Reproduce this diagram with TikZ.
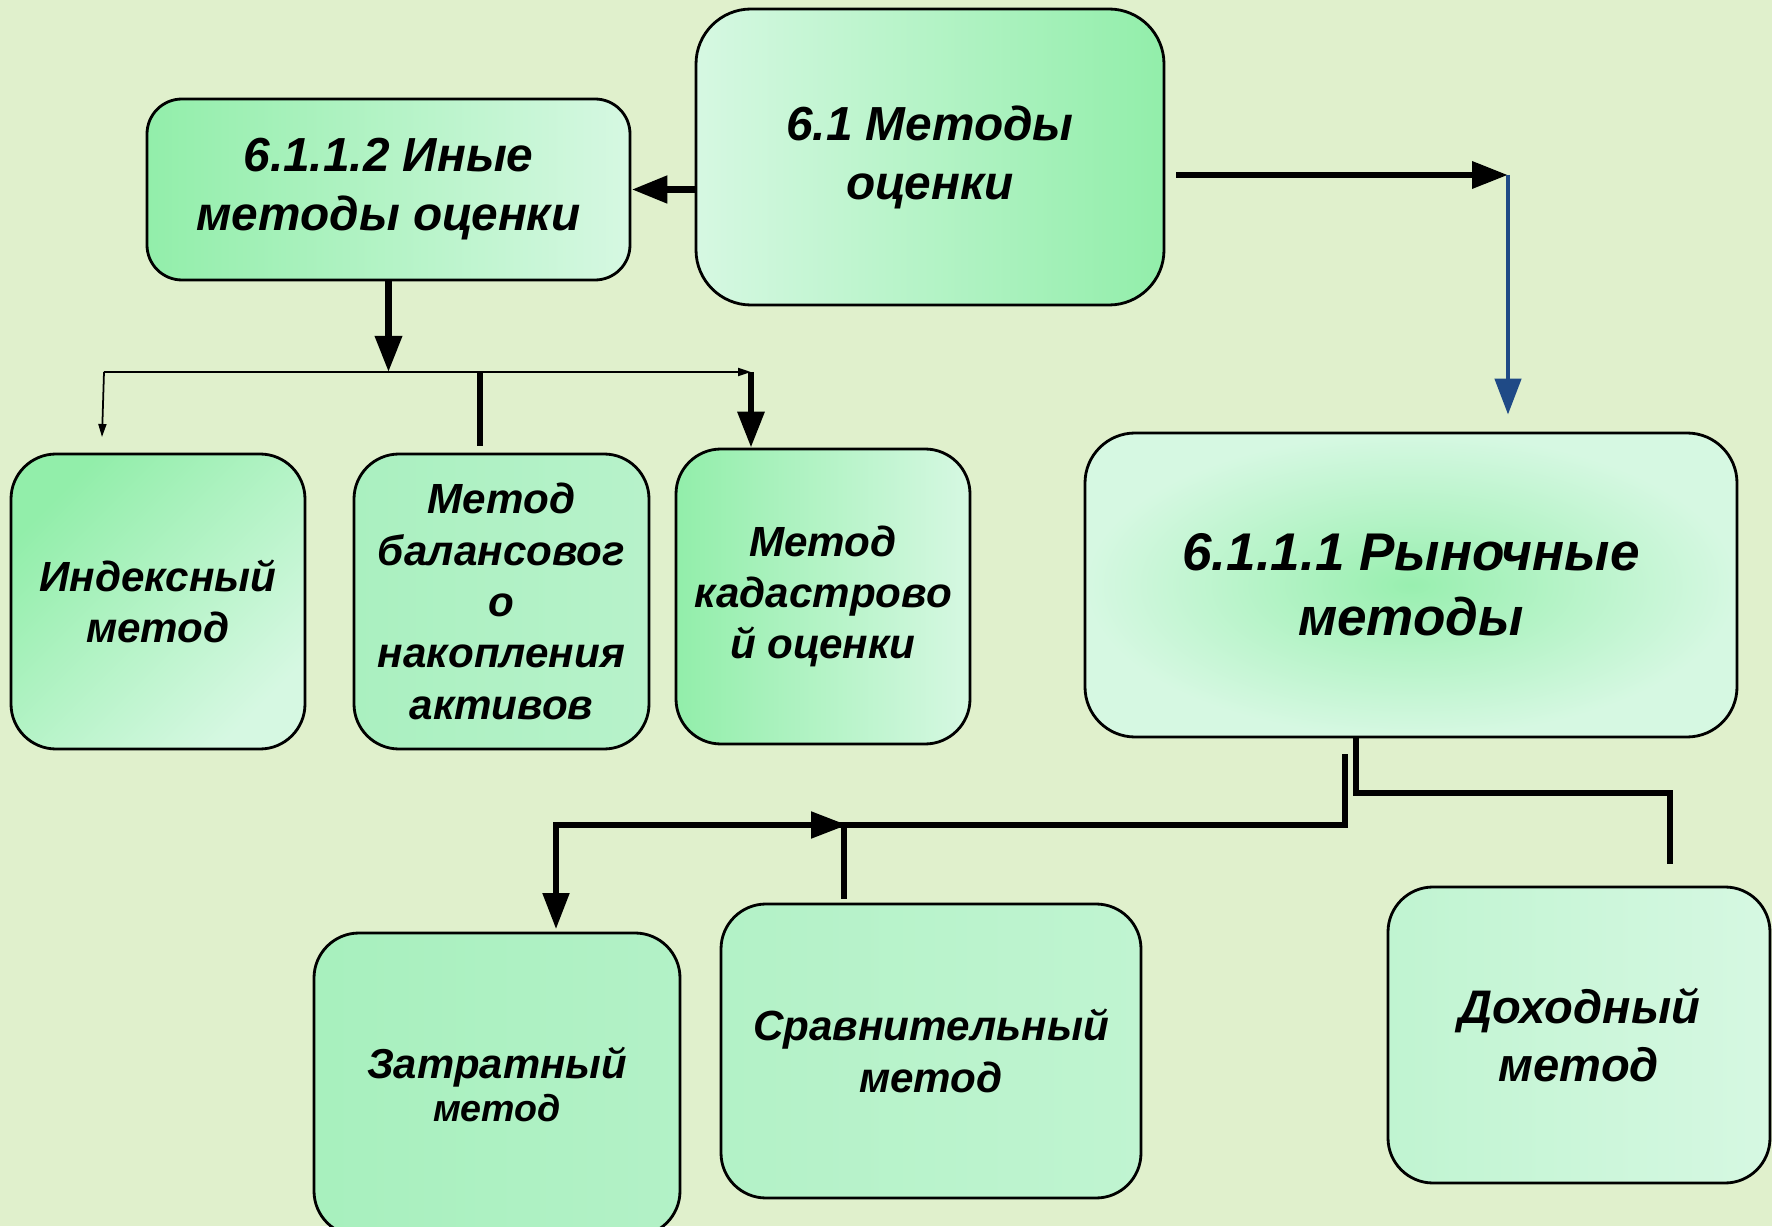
\documentclass[tikz,border=0pt]{standalone}
\usepackage{fontspec}
\setmainfont{Liberation Sans}
\usetikzlibrary{positioning,calc,arrows.meta}

\definecolor{bgcol}{HTML}{E0F0CC}
\definecolor{deepgreen}{HTML}{92EEAA}
\definecolor{midgreen}{HTML}{AAF0C0}
\definecolor{palegreen}{HTML}{D6F8E2}
\definecolor{arrowblue}{HTML}{1F4A86}

\begin{document}
\begin{tikzpicture}
[
   thick,
   align=center,
   font=\bfseries\itshape
]

\tikzset{box/.style = {rectangle, draw=black, line width=0.8pt, rounded corners=0.45cm, inner sep=2pt}}
\tikzset{small/.style = {font=\fontsize{12}{14.6}\selectfont\bfseries\itshape}}
\tikzset{large/.style = {font=\fontsize{13.6}{16.8}\selectfont\bfseries\itshape}}
\tikzset{edge/.style = {-{Triangle[length=0.36cm,width=0.26cm]}, line width=1.5pt}}
\tikzset{thinedge/.style = {-{Triangle[length=0.13cm,width=0.08cm]}, line width=0.6pt}}
\tikzset{link/.style = {line width=1.5pt}}

% background
\fill[bgcol] (0,0) rectangle (17.72,12.26);
\useasboundingbox (0,0) rectangle (17.72,12.26);
\clip (0,0) rectangle (17.72,12.26);

% nodes
\node[box, large, rounded corners=0.55cm, minimum width=4.68cm, minimum height=2.96cm,
      left color=palegreen, right color=deepgreen] (meth) at (9.30,10.69) {6.1 Методы\\оценки};
\node[box, large, rounded corners=0.35cm, minimum width=4.83cm, minimum height=1.81cm,
      left color=deepgreen, right color=palegreen] (other) at (3.885,10.365) {6.1.1.2 Иные\\методы оценки};
\node[box, rounded corners=0.5cm, minimum width=6.52cm, minimum height=3.04cm,
      font=\fontsize{15.1}{18.6}\selectfont\bfseries\itshape,
      shading=radial, inner color=deepgreen!90!palegreen, outer color=palegreen] (market) at (14.11,6.41) {6.1.1.1 Рыночные\\методы};

\node[box, small, minimum width=2.94cm, minimum height=2.95cm,
      top color=deepgreen, bottom color=palegreen, shading angle=45] (index) at (1.58,6.245) {Индексный\\метод};
\node[box, small, minimum width=2.95cm, minimum height=2.95cm,
      left color=midgreen, right color=midgreen!70!palegreen] (balance) at (5.015,6.245) {Метод\\балансовог\\о\\накопления\\активов};
\node[box, small, minimum width=2.94cm, minimum height=2.95cm,
      left color=deepgreen, right color=palegreen] (cadastre) at (8.23,6.295) {Метод\\кадастрово\\й оценки};

\node[box, minimum width=3.66cm, minimum height=3.03cm,
      left color=midgreen!90!deepgreen, right color=midgreen!80!palegreen] (cost) at (4.97,1.415)
      {{\fontsize{11.9}{14.5}\selectfont Затратный}\\{\fontsize{10.7}{12.5}\selectfont метод}};
\node[box, small, minimum width=4.2cm, minimum height=2.94cm,
      left color=midgreen!80!palegreen, right color=midgreen!50!palegreen] (compare) at (9.31,1.75) {Сравнительный\\метод};
\node[box, minimum width=3.82cm, minimum height=2.96cm,
      font=\fontsize{13.4}{16.7}\selectfont\bfseries\itshape,
      left color=midgreen!50!palegreen, right color=palegreen] (income) at (15.79,1.91) {Доходный\\метод};

% free ends
\coordinate (turn) at (15.08,10.51);
\coordinate (busl) at (1.04,8.54);
\coordinate (busr) at (7.51,8.54);
\coordinate (idx) at (1.02,7.89);
\coordinate (bal) at (4.80,8.54);
\coordinate (splitr) at (13.56,4.33);
\coordinate (inc) at (16.70,3.62);
\coordinate (feed) at (13.45,4.72);
\coordinate (bar) at (13.45,4.01);
\coordinate (costin) at (5.56,2.97);
\coordinate (cmp) at (8.47,4.01);

% arcs
\draw[edge, line width=2.2pt] (meth.west |- other.east) -- (other.east);
\draw[edge, line width=1.9pt] ([xshift=0.11cm]meth.east |- turn) -- (turn);
\draw[edge, draw=arrowblue, line width=1.3pt] (turn) -- ([yshift=0.17cm]market.north -| turn);

\draw[edge, line width=1.9pt] (other.south) -- (other.south |- busl);
\draw[thinedge] (busl) -- (busr);
\draw[thinedge, line width=0.5pt] (busl) -- (idx);
\draw[link, line width=1.6pt] (bal) -- ([yshift=0.07cm]balance.north -| bal);
\draw[edge, line width=1.8pt] (busr) -- (cadastre.north -| busr);

\draw[link] (market.south -| splitr) -- (splitr) -| (inc);
\draw[edge] (feed) -- (bar) -| (costin);
\draw[edge] (bar -| costin) -- (cmp);
\draw[link] ([xshift=-0.03cm]cmp) -- ([xshift=-0.03cm,yshift=0.04cm]compare.north -| cmp);
\end{tikzpicture}
\end{document}
